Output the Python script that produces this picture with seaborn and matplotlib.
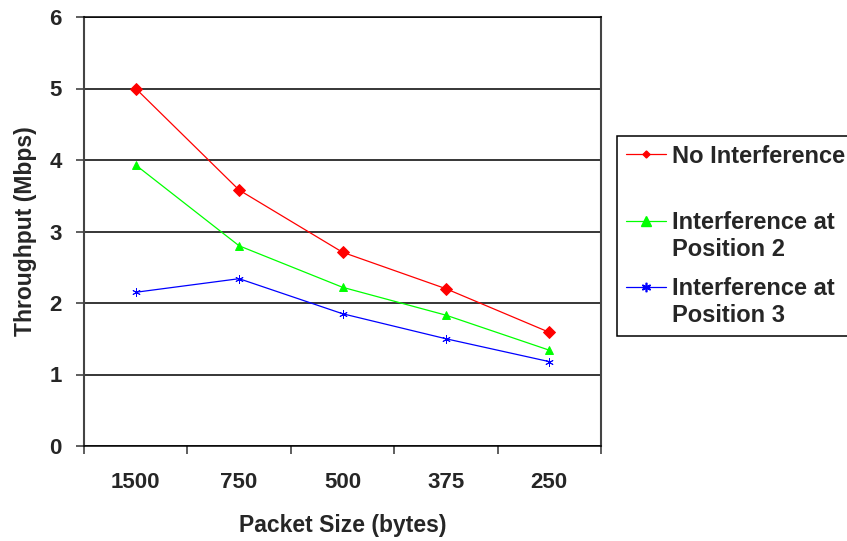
import numpy as np
import pandas as pd
import matplotlib
matplotlib.use("Agg")
import matplotlib.pyplot as plt
import seaborn as sns
from matplotlib.legend_handler import HandlerLine2D
from matplotlib.ticker import FixedLocator

# Throughput measured for each packet size
packet_sizes = ["1500", "750", "500", "375", "250"]
no_interference = [5.00, 3.58, 2.71, 2.20, 1.59]
interference_pos2 = [3.93, 2.80, 2.22, 1.83, 1.34]
interference_pos3 = [2.15, 2.34, 1.85, 1.50, 1.18]

series_names = ["No Interference", "Interference at Position 2", "Interference at Position 3"]
legend_labels = ["No Interference\n ", "Interference at\nPosition 2", "Interference at\nPosition 3"]
y_ticks = [0, 1, 2, 3, 4, 5, 6]

df = pd.DataFrame({
    "Packet Size (bytes)": packet_sizes * 3,
    "Throughput (Mbps)": no_interference + interference_pos2 + interference_pos3,
    "Series": [series_names[0]] * 5 + [series_names[1]] * 5 + [series_names[2]] * 5,
})

sns.set_theme(style="white")
plt.rcParams["font.family"] = ["Liberation Sans", "DejaVu Sans"]
plt.rcParams["font.weight"] = "bold"

TICK_FS = 16
LABEL_FS = 16.5
LEGEND_FS = 17

fig = plt.figure(figsize=(8.47, 5.41), dpi=100)
ax = fig.add_axes([84 / 847, 1 - 446 / 541, (601 - 84) / 847, (446 - 17) / 541])

palette = {series_names[0]: "#FF0000", series_names[1]: "#00FF00", series_names[2]: "#0000FF"}
sns.pointplot(
    data=df, x="Packet Size (bytes)", y="Throughput (Mbps)", hue="Series",
    order=packet_sizes, hue_order=series_names, palette=palette,
    markers=["D", "^", (6, 2, 0)], linestyles="-", errorbar=None, dodge=False,
    ax=ax, linewidth=0.9, markersize=6,
)

msizes = {series_names[0]: 4.2, series_names[1]: 8.0, series_names[2]: 8.0}
medges = {series_names[0]: 1.0, series_names[1]: 1.0, series_names[2]: 1.2}
for line in ax.lines:
    lab = line.get_label()
    if lab in msizes:
        line.set_markersize(msizes[lab])
        line.set_markeredgewidth(medges[lab])

handles, labels = ax.get_legend_handles_labels()
if ax.get_legend() is not None:
    ax.get_legend().remove()
for h in handles:
    lab = h.get_label()
    if lab in msizes:
        h.set_markersize(msizes[lab] * 0.85)
        h.set_markeredgewidth(medges[lab])

ax.set_xlim(-0.5, 4.5)
ax.set_ylim(0, 6)
ax.set_yticks(y_ticks)
ax.yaxis.grid(True, color="black", linewidth=1.1)
ax.set_axisbelow(True)

for side in ["left", "right"]:
    ax.spines[side].set_visible(True)
    ax.spines[side].set_color("#444444")
    ax.spines[side].set_linewidth(1.5)
for side in ["top", "bottom"]:
    ax.spines[side].set_visible(True)
    ax.spines[side].set_color("black")
    ax.spines[side].set_linewidth(1.1)

ax.xaxis.set_minor_locator(FixedLocator(np.arange(-0.5, 5.0, 1.0)))
ax.tick_params(axis="x", which="major", length=0, pad=19, labelsize=TICK_FS)
ax.tick_params(axis="x", which="minor", length=6, width=1.1, color="#333333", direction="out", bottom=True)
ax.tick_params(axis="y", which="major", length=6, width=1.1, color="#333333", direction="out", left=True, pad=10, labelsize=TICK_FS)
for t in ax.get_xticklabels() + ax.get_yticklabels():
    t.set_fontweight("bold")

ax.set_xlabel("Packet Size (bytes)", fontsize=LABEL_FS, fontweight="bold", labelpad=15)
ax.set_ylabel("Throughput (Mbps)", fontsize=LABEL_FS, fontweight="bold", labelpad=9)


class FirstLineHandler(HandlerLine2D):
    """Places the legend sample beside the first line of a two-line label."""

    def __init__(self, shift, **kw):
        super().__init__(**kw)
        self.shift = shift

    def create_artists(self, legend, orig_handle, xdescent, ydescent, width, height, fontsize, trans):
        arts = super().create_artists(legend, orig_handle, xdescent, ydescent, width, height, fontsize, trans)
        for a in arts:
            a.set_ydata(np.asarray(a.get_ydata(), dtype=float) + self.shift)
        return arts


hmap = {h: FirstLineHandler(11.5) for h in handles}
leg = fig.legend(
    handles, legend_labels, handler_map=hmap,
    loc="upper left", bbox_to_anchor=(617 / 847, 1 - 136 / 541), bbox_transform=fig.transFigure,
    borderaxespad=0, fancybox=False, frameon=True, edgecolor="black", framealpha=1,
    prop={"size": LEGEND_FS, "weight": "bold"}, handlelength=1.7, handletextpad=0.26,
    borderpad=0.36, labelspacing=0.7,
)
leg.get_frame().set_linewidth(1.1)
for t in leg.get_texts():
    t.set_linespacing(1.22)

fig.savefig("out.png", dpi=100)
